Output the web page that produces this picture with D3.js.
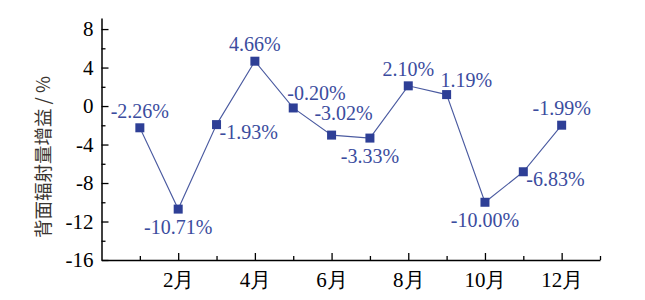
<!DOCTYPE html>
<html><head><meta charset="utf-8">
<script src="https://cdn.jsdelivr.net/npm/d3@7"></script>
<style>body{margin:0;background:#fff}svg{display:block}</style>
</head><body>
<svg id="c" width="645" height="300"></svg>
<script>
const months = [1,2,3,4,5,6,7,8,9,10,11,12];
const values = [-2.26,-10.71,-1.93,4.66,-0.20,-3.02,-3.33,2.10,1.19,-10.00,-6.83,-1.99];
const labels = ["-2.26%","-10.71%","-1.93%","4.66%","-0.20%","-3.02%","-3.33%","2.10%","1.19%","-10.00%","-6.83%","-1.99%"];
const labelPos = ["above","below","right","above","aboveRight","aboveCenter","below","above","aboveRight","below","right","above"];
const yTicks = [8,4,0,-4,-8,-12,-16];
const xTickLabels = {2:"2月",4:"4月",6:"6月",8:"8月",10:"10月",12:"12月"};
const yTitle = "背面辐射量增益 / %";

const svg = d3.select("#c");
const x = d3.scaleLinear().domain([0,13]).range([101.5,600]);
const y = d3.scaleLinear().domain([-16,9.15]).range([260,18]);
const font = "'Liberation Serif','Times New Roman',serif";

// axes
const xAxis = d3.axisBottom(x).tickValues(d3.range(1,14)).tickSize(0).tickFormat(d => xTickLabels[d] || "");
const gx = svg.append("g").attr("transform","translate(0,260)").call(xAxis);
gx.select(".domain").attr("stroke","#000").attr("stroke-width",1.5);
gx.selectAll(".tick line").attr("y2", d => d%2===0 ? -7 : -4).attr("stroke","#000").attr("stroke-width",1.3);
gx.selectAll(".tick text").attr("y",12).attr("dy","0.71em").attr("font-family",font).attr("font-size",21).attr("fill","#000");

const yAxis = d3.axisLeft(y).tickValues(d3.range(-16,10,2)).tickSize(0).tickFormat(d => yTicks.includes(d) ? d : "");
const gy = svg.append("g").attr("transform","translate(101.5,0)").call(yAxis);
gy.select(".domain").attr("stroke","#000").attr("stroke-width",1.5);
gy.selectAll(".tick line").attr("x2", d => yTicks.includes(d) ? 7 : 4).attr("stroke","#000").attr("stroke-width",1.3);
gy.selectAll(".tick text").attr("x",-8).attr("font-family",font).attr("font-size",21).attr("fill","#000");

// title
svg.append("text")
  .attr("transform","translate(50,157) rotate(-90)")
  .attr("text-anchor","middle")
  .attr("font-family","'Noto Sans CJK SC',sans-serif")
  .attr("font-size",18.5)
  .attr("fill","#3a3530")
  .text(yTitle);

// line
const line = d3.line().x((d,i)=>x(months[i])).y(d=>y(d));
svg.append("path").datum(values).attr("d",line).attr("fill","none").attr("stroke","#4a5aa0").attr("stroke-width",1.1);

svg.selectAll("rect.m").data(values).enter().append("rect")
  .attr("class","m")
  .attr("x",(d,i)=>x(months[i])-4.5).attr("y",d=>y(d)-4.5)
  .attr("width",9).attr("height",9).attr("fill","#2e3f96");

// labels
const off = {
  above:{dx:0,dy:-10,anchor:"middle"},
  below:{dx:0,dy:25,anchor:"middle"},
  right:{dx:3,dy:14,anchor:"start"},
  aboveRight:{dx:-6,dy:-8,anchor:"start"},
  aboveCenter:{dx:12,dy:-15,anchor:"middle"}
};
svg.selectAll("text.l").data(values).enter().append("text")
  .attr("class","l")
  .attr("x",(d,i)=>x(months[i])+off[labelPos[i]].dx)
  .attr("y",(d,i)=>y(d)+off[labelPos[i]].dy)
  .attr("text-anchor",(d,i)=>off[labelPos[i]].anchor)
  .attr("font-family",font).attr("font-size",20)
  .attr("fill","#3b4c9e")
  .text((d,i)=>labels[i]);
</script>
</body></html>
